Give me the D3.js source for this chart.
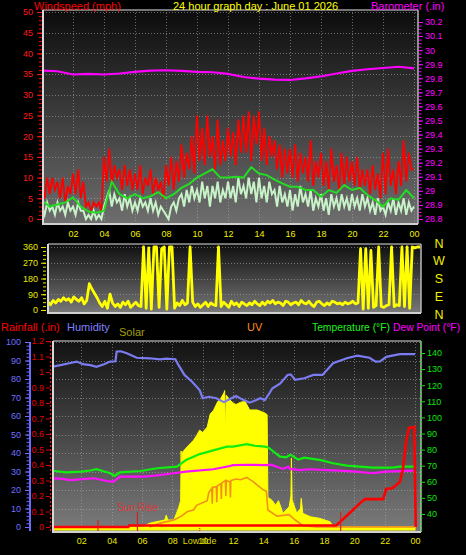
<!DOCTYPE html>
<html><head><meta charset="utf-8">
<script src="https://cdn.jsdelivr.net/npm/d3@7"></script>
<style>
html,body{margin:0;padding:0;background:#000;}
svg{display:block;}
</style></head><body>
<svg id="c" width="466" height="555"></svg>
<script>
// ---------------- DATA ----------------
const hourLabels = ["02","04","06","08","10","12","14","16","18","20","22","00"];
const labelHours = [2,4,6,8,10,12,14,16,18,20,22,24];

// wind gust (mph), every 10 minutes from 00:00 to 24:00
const gust = [
 8,5,10,6,10,7, 9,5,10,4,8,6, 11,6,12,5,9,3, 4,2,4,3,4,2,
 15,9,17,8,13,10, 12,7,13,8,12,7, 11,7,13,6,10,8, 12,6,10,7,9,5,
 13,8,15,7,14,9, 18,10,16,12,20,11, 25,14,22,13,25,15, 20,12,24,13,19,14,
 22,15,21,13,24,16, 25,16,26,14,25,18, 26,14,22,13,20,15, 19,12,18,10,17,11,
 17,10,18,9,16,11, 15,9,19,8,14,10, 16,8,14,7,17,9, 13,7,16,8,15,9,
 14,8,15,7,12,8, 12,6,13,7,11,5, 16,6,17,8,12,6, 14,8,19,9,16,12, 12
];
// wind speed (mph), every 10 minutes
const speed = [
 3,1,4,2,3,1, 4,2,3,1,4,2, 3,1,4,2,2,0, 1,0,2,0,1,0,
 3,5,7,3,6,4, 5,2,6,3,5,2, 4,2,5,3,4,2, 5,2,4,1,3,2,
 1,0,3,4,2,5, 6,3,7,4,8,5, 7,4,9,5,8,3, 8,5,9,4,7,5,
 9,5,8,4,10,6, 8,5,10,6,9,4, 10,5,8,4,9,6, 7,3,8,4,6,3,
 7,2,6,3,8,4, 6,3,7,2,5,3, 6,2,5,1,6,3, 5,2,6,3,5,2,
 6,3,5,2,6,3, 5,2,4,1,5,2, 3,1,4,2,5,1, 4,2,5,1,4,2, 3
];
// average wind (mph), every 30 minutes
const avgWind = [4.5,3,3.5,4,5.2,3,1.8,1.5,2,9,6,5,6,5,5.5,6.5,5,6,7.5,8.5,10,11,12,10,
 10,10.2,10,12.5,11,10.6,9.5,8.6,7.8,7.8,7,7,5.4,7,6.3,8.2,7,7.5,5.8,4.6,3,5,4.6,7,5];
// barometer (in), hourly
const baro = [29.854,29.850,29.827,29.831,29.827,29.834,29.845,29.855,29.857,29.852,29.845,29.843,
 29.831,29.809,29.797,29.791,29.788,29.799,29.813,29.834,29.853,29.864,29.873,29.882,29.870];
// wind direction (degrees), every 10 minutes
const windDir = [
 45,30,55,40,60,50, 70,55,65,45,75,60, 50,70,35,55,150,120, 95,70,40,20,50,10,
 90,40,20,35,15,45, 30,50,15,30,45,25, 20,360,10,355,5,360, 360,15,350,360,5,360,
 360,10,40,25,55,30, 40,360,45,20,35,15, 30,45,20,40,30,25, 360,20,45,30,15,50,
 30,40,20,45,35,25, 40,30,50,35,25,45, 30,50,40,55,35,45, 40,25,50,45,30,40,
 45,30,55,40,35,50, 30,20,45,50,35,25, 40,30,50,45,35,40, 30,45,35,40,50,35,
 40,350,5,350,10,340, 15,25,360,20,15,25, 30,360,20,30,25,360, 20,360,10,360,355,360, 360
];
const compassLabels = ["N","W","S","E","N"];

// [hour, value]
const humidity = [[0,86.5],[0.7,87.6],[1.2,88.5],[1.7,89.4],[2.1,88],[2.6,87.5],[3.0,86.6],[3.5,88],[3.9,89.4],
 [4.25,89.6],[4.33,94.8],[4.6,95],[5.0,93.9],[5.65,91.5],[6.5,91.2],[7.2,90.6],[7.6,91],[8.0,90.8],[8.2,90.6],
 [8.4,87.6],[8.8,82.2],[9.3,78.5],[9.8,74],[10.0,69.6],[10.4,70.4],[10.9,69.6],[11.4,67.5],[11.7,68.8],[12.2,70.8],
 [12.6,69],[13.1,67.2],[13.5,68.5],[13.8,69.6],[14.1,68.6],[14.4,72.3],[14.6,75],[15.1,77.5],[15.6,82.2],[15.8,82.5],
 [16.1,79.5],[16.7,80.4],[17.3,82.2],[17.9,82.2],[18.6,88.5],[19.5,91.2],[20.2,92.6],[21.0,91.5],[21.4,89.4],
 [21.7,89.5],[22.1,92],[23.0,93.4],[24,93.4]];
const temperature = [[0,67],[1.0,65.9],[2.0,66.3],[2.6,67],[3.0,67.8],[3.9,65.3],[4.2,63.6],[4.55,65.9],[5.9,66.7],
 [7.0,68.4],[8.3,69.4],[8.9,73.5],[9.8,77.2],[10.7,79.5],[11.6,81.8],[12.0,81.8],[12.9,83.4],[13.4,82.5],[14.1,81.8],
 [14.3,81.5],[15.1,75.6],[15.5,75.2],[15.8,76.8],[16.3,73.8],[16.7,75],[17.8,73.5],[18.6,71.5],[19.5,70],[21.2,68.8],
 [22.5,68.8],[23.0,69.4],[24,69.4]];
const dewPoint = [[0,62.2],[0.8,61.8],[1.2,61],[1.9,61.5],[2.8,62.2],[3.7,60.5],[4.1,59.9],[4.55,63.2],[6.1,63.2],
 [7.0,64],[8.1,65.3],[8.9,66.3],[10.7,67.8],[11.8,69.8],[12.0,70.4],[13.0,70.6],[14.2,70.4],[14.5,70.6],[15.3,68],
 [15.65,69.4],[15.75,68],[16.4,67.3],[17.0,67.8],[18.2,67.3],[19.0,67],[20.1,66.3],[21.2,65.3],[22.1,66.3],
 [23.0,66.6],[24,66.9]];
const rainfall = [[0,0],[5.1,0],[5.15,0.01],[18.8,0.01],[19.2,0.045],[19.9,0.11],[20.5,0.165],[20.7,0.18],[21.9,0.18],
 [22.1,0.245],[22.5,0.25],[23.0,0.29],[23.2,0.37],[23.4,0.54],[23.6,0.64],[23.95,0.645],[24.05,0]];
const solar = [[0,0],[6.0,0],[6.5,24],[7.0,35],[7.5,45],[7.6,77],[7.7,45],[8.1,45],[8.4,120],[8.55,170],[8.58,490],
 [8.62,200],[8.65,480],[9.0,520],[9.2,540],[9.4,560],[9.6,590],[9.8,625],[10.0,610],[10.3,645],[10.5,730],[10.7,750],
 [11.0,810],[11.2,830],[11.4,865],[11.45,880],[11.5,590],[11.55,850],[11.8,820],[12.0,800],[12.2,790],[12.5,805],
 [12.8,810],[13.1,755],[13.6,755],[14.1,735],[14.25,725],[14.3,190],[14.4,185],[14.6,170],[14.8,140],[15.0,170],
 [15.3,88],[15.7,130],[15.82,200],[15.85,445],[15.9,175],[16.2,90],[16.45,120],[16.5,185],[16.6,88],[17.1,66],
 [17.7,56],[18.4,34],[18.6,2],[19,0],[24,0]];
const uvIndex = [[6.5,0],[7.2,0.25],[8.1,0.45],[8.6,0.7],[9.0,1.0],[9.4,1.1],[9.6,1.4],[10.3,1.7],[10.4,2.2],[10.6,2.5],
 [10.63,1.5],[10.66,2.55],[10.9,2.6],[10.93,1.6],[10.96,2.65],[11.2,2.8],[11.23,1.8],[11.26,2.85],[11.5,3.0],[11.53,2.0],
 [11.56,3.0],[11.8,2.9],[11.83,1.9],[11.86,3.0],[12.2,3.1],[12.5,3.05],[12.9,3.2],[13.3,2.95],[13.6,2.7],[14.0,2.4],
 [14.2,2.3],[14.3,1.1],[14.9,0.7],[15.3,0.75],[15.7,0.8],[16.1,0.45],[16.6,0.1],[17.0,0.05],[17.5,0],[24,0]];
const eventHours = [3.1, 5.7, 19.1];
const eventKinds = ["mark", "sunrise", "sunset"];
const tideHours = [9.8];
const tideLabels = ["Low tide"];

// ---------------- DRAWING ----------------
const FONT = "'Liberation Sans', Arial, sans-serif";
const svg = d3.select("#c");
svg.append("rect").attr("width",466).attr("height",555).attr("fill","#000");
const defs = svg.append("defs");
function grad(id,c0,c1){
  const g = defs.append("linearGradient").attr("id",id).attr("x1",0).attr("y1",0).attr("x2",0).attr("y2",1);
  g.append("stop").attr("offset","0%").attr("stop-color",c0);
  g.append("stop").attr("offset","100%").attr("stop-color",c1);
}
function panel(P,id,c0,c1){
  grad(id+"g",c0,c1);
  defs.append("clipPath").attr("id",id+"c").append("rect")
    .attr("x",P.l).attr("y",P.t).attr("width",P.r-P.l).attr("height",P.b-P.t);
  svg.append("rect").attr("x",P.l).attr("y",P.t).attr("width",P.r-P.l).attr("height",P.b-P.t)
    .attr("fill",`url(#${id}g)`);
}
function frame(P){
  svg.append("line").attr("x1",P.l).attr("x2",P.r).attr("y1",P.t).attr("y2",P.t).attr("stroke","#9a9a9a").attr("stroke-width",1.5);
  svg.append("line").attr("x1",P.r).attr("x2",P.r).attr("y1",P.t).attr("y2",P.b).attr("stroke","#b8b8b8").attr("stroke-width",1.5);
  svg.append("line").attr("x1",P.l).attr("x2",P.l).attr("y1",P.t).attr("y2",P.b+1).attr("stroke","#d8d8d8").attr("stroke-width",2);
  svg.append("line").attr("x1",P.l).attr("x2",P.r).attr("y1",P.b).attr("y2",P.b).attr("stroke","#d0d0d0").attr("stroke-width",2);
}
function gridH(P,ys){
  svg.append("g").selectAll("line").data(ys).join("line")
    .attr("x1",P.l).attr("x2",P.r).attr("y1",d=>Math.round(d)+0.5).attr("y2",d=>Math.round(d)+0.5)
    .attr("stroke","#b0b0b0").attr("stroke-opacity",0.55).attr("stroke-dasharray","1,2");
}
function gridV(P,xs){
  svg.append("g").selectAll("line").data(xs).join("line")
    .attr("y1",P.t).attr("y2",P.b).attr("x1",d=>Math.round(d)+0.5).attr("x2",d=>Math.round(d)+0.5)
    .attr("stroke","#b0b0b0").attr("stroke-opacity",0.55).attr("stroke-dasharray","1,2");
}
function styleAxis(g,color,size){
  g.select(".domain").remove();
  g.selectAll("line").attr("stroke",color);
  g.selectAll("text").attr("fill",color).attr("font-size",size).attr("font-family",FONT);
}
function txt(x,y,s,color,size,anchor){
  return svg.append("text").attr("x",x).attr("y",y).text(s).attr("fill",color)
    .attr("font-size",size).attr("font-family",FONT).attr("text-anchor",anchor||"start");
}

// ===== Panel 1: wind + barometer =====
const P1 = {l:43,t:10,r:418,b:224};
const xTop = d3.scaleLinear([0,24],[42,414]);
const windY = d3.scaleLinear([0,50],[219,12]);
const baroY = d3.scaleLinear([28.8,30.2],[219,22]);
panel(P1,"p1","#0c0c0c","#6e6e6e");
gridH(P1,d3.range(5,51,5).map(windY));
gridV(P1,labelHours.map(xTop));
const g1 = svg.append("g").attr("clip-path","url(#p1c)");
g1.append("path").datum(gust).attr("fill","none").attr("stroke","#ff0000").attr("stroke-width",1.8)
  .attr("d",d3.line().x((d,i)=>xTop(i/6)).y(d=>windY(d)));
g1.append("path").datum(speed).attr("fill","none").attr("stroke","#c8f2c8").attr("stroke-width",2)
  .attr("d",d3.line().x((d,i)=>xTop(i/6)).y(d=>windY(d)));
g1.append("path").datum(avgWind).attr("fill","none").attr("stroke","#22dd22").attr("stroke-width",2)
  .attr("d",d3.line().x((d,i)=>xTop(i/2)).y(d=>windY(d)));
g1.append("path").datum(baro).attr("fill","none").attr("stroke","#ff00ff").attr("stroke-width",2.2)
  .attr("d",d3.line().x((d,i)=>xTop(i)).y(d=>baroY(d)));
frame(P1);
// axes
styleAxis(svg.append("g").attr("transform","translate(42,0)")
  .call(d3.axisLeft(windY).tickValues(d3.range(0,51,1)).tickSize(3).tickFormat("")),"#ff0000",9);
styleAxis(svg.append("g").attr("transform","translate(42,0)")
  .call(d3.axisLeft(windY).tickValues(d3.range(0,51,5)).tickSize(5).tickPadding(4)),"#ff1a1a",9);
styleAxis(svg.append("g").attr("transform","translate(419,0)")
  .call(d3.axisRight(baroY).tickValues(d3.range(0,57).map(i=>28.8+i*0.025)).tickSize(2.5).tickFormat("")),"#ff00ff",9);
styleAxis(svg.append("g").attr("transform","translate(419,0)")
  .call(d3.axisRight(baroY).tickValues(d3.range(0,15).map(i=>+(28.8+i*0.1).toFixed(1))).tickSize(4).tickPadding(2)
  .tickFormat(d=>d3.format("")(+d.toFixed(1)))),"#ff00ff",9);
styleAxis(svg.append("g").attr("transform",`translate(0,${P1.b})`)
  .call(d3.axisBottom(xTop).tickValues(labelHours).tickSize(0).tickPadding(7).tickFormat((d,i)=>hourLabels[i])),"#f0f000",9);
txt(34,9.5,"Windspeed (mph)","#ff0000",11);
txt(173,9.5,"24 hour graph day : June 01 2026","#ffff00",11);
txt(371,9.5,"Barometer (.in)","#ff00ff",11);

// ===== Panel 2: wind direction =====
const P2 = {l:48,t:244,r:421,b:313};
const xDir = d3.scaleLinear([0,24],[48,420]);
const dirY = d3.scaleLinear([0,360],[310,247]);
panel(P2,"p2","#0e0e0e","#787878");
gridH(P2,[90,180,270,360].map(dirY));
const g2 = svg.append("g").attr("clip-path","url(#p2c)");
g2.append("path").datum(windDir).attr("fill","none").attr("stroke","#ffff00").attr("stroke-width",2.8)
  .attr("stroke-linejoin","round")
  .attr("d",d3.line().x((d,i)=>xDir(i/6)).y(d=>dirY(d)));
frame(P2);
styleAxis(svg.append("g").attr("transform","translate(46,0)")
  .call(d3.axisLeft(dirY).tickValues(d3.range(0,361,22.5)).tickSize(3).tickFormat("")),"#e8e800",9);
styleAxis(svg.append("g").attr("transform","translate(46,0)")
  .call(d3.axisLeft(dirY).tickValues([0,90,180,270,360]).tickSize(5).tickPadding(3)),"#e8e800",9);
const compY = d3.scalePoint(d3.range(compassLabels.length),[243,314]);
svg.append("g").selectAll("text").data(compassLabels).join("text")
  .attr("x",439).attr("y",(d,i)=>compY(i)).attr("dy","0.36em").attr("text-anchor","middle")
  .attr("fill","#f0f000").attr("font-size",12.5).attr("font-family",FONT).text(d=>d);

// ===== Panel 3: rain/humidity/solar/UV/temp/dew =====
const P3 = {l:53,t:341,r:421,b:532};
const xBot = d3.scaleLinear([0,24],[51,415]);
const humY = d3.scaleLinear([0,100],[527,342]);
const rainY = d3.scaleLinear([0,1.2],[527,341]);
const tempY = d3.scaleLinear([40,140],[514,353]);
const solarY = d3.scaleLinear([0,1200],[527,341]);
const uvY = d3.scaleLinear([0,12],[527,341]);
panel(P3,"p3","#121212","#7c7c7c");
gridH(P3,d3.range(10,101,10).map(humY));
gridV(P3,labelHours.map(xBot));
const g3 = svg.append("g").attr("clip-path","url(#p3c)");
g3.append("path").datum(solar).attr("fill","#ffff00").attr("stroke","#ffff00").attr("stroke-width",1)
  .attr("d",d3.area().x(d=>xBot(d[0])).y0(P3.b-2).y1(d=>solarY(d[1])));
g3.append("path").datum(uvIndex).attr("fill","none").attr("stroke","#f39018").attr("stroke-width",1.6)
  .attr("d",d3.line().x(d=>xBot(d[0])).y(d=>uvY(d[1])));
g3.append("path").datum(temperature).attr("fill","none").attr("stroke","#10ee10").attr("stroke-width",2.2)
  .attr("d",d3.line().x(d=>xBot(d[0])).y(d=>tempY(d[1])));
g3.append("path").datum(dewPoint).attr("fill","none").attr("stroke","#ff10ff").attr("stroke-width",2.2)
  .attr("d",d3.line().x(d=>xBot(d[0])).y(d=>tempY(d[1])));
g3.append("path").datum(humidity).attr("fill","none").attr("stroke","#7b7bf2").attr("stroke-width",2.2)
  .attr("d",d3.line().x(d=>xBot(d[0])).y(d=>humY(d[1])));
g3.append("path").datum(rainfall).attr("fill","none").attr("stroke","#ff0000").attr("stroke-width",2.6)
  .attr("d",d3.line().x(d=>xBot(d[0])).y(d=>rainY(d[1])));
// event markers
g3.selectAll(".ev").data(eventHours).join("line").attr("class","ev")
  .attr("x1",d=>xBot(d)).attr("x2",d=>xBot(d))
  .attr("y1",(d,i)=>eventKinds[i]==="mark"?520:512).attr("y2",P3.b)
  .attr("stroke","#d82020").attr("stroke-width",1.2);
g3.selectAll(".td").data(tideHours).join("line").attr("class","td")
  .attr("x1",d=>xBot(d)).attr("x2",d=>xBot(d)).attr("y1",526).attr("y2",P3.b)
  .attr("stroke","#ff3030").attr("stroke-width",1.5).attr("stroke-dasharray","1,1");
svg.append("g").selectAll("text").data(eventHours.filter((d,i)=>eventKinds[i]==="sunrise")).join("text")
  .attr("x",d=>xBot(d)).attr("y",511).attr("text-anchor","middle").attr("fill","#d83a3a")
  .attr("font-size",10).attr("font-family",FONT).text("Sun Rise");
frame(P3);
// left humidity axis
svg.append("line").attr("x1",30).attr("x2",30).attr("y1",342).attr("y2",531).attr("stroke","#6b6bff").attr("stroke-width",2);
styleAxis(svg.append("g").attr("transform","translate(29,0)")
  .call(d3.axisLeft(humY).tickValues(d3.range(0,101,2)).tickSize(2.5).tickFormat("")),"#6b6bff",9);
styleAxis(svg.append("g").attr("transform","translate(29,0)")
  .call(d3.axisLeft(humY).tickValues(d3.range(0,101,10)).tickSize(4).tickPadding(4)),"#7070ff",9);
// rain axis
svg.append("line").attr("x1",50.5).attr("x2",50.5).attr("y1",341).attr("y2",532).attr("stroke","#e01010").attr("stroke-width",1.2).attr("stroke-dasharray","2,2");
styleAxis(svg.append("g").attr("transform","translate(50,0)")
  .call(d3.axisLeft(rainY).tickValues(d3.range(0,13).map(i=>i/10)).tickSize(4).tickPadding(2)
  .tickFormat(d=>d3.format("")(+d.toFixed(1)))),"#e00000",9);
// temperature axis
svg.append("line").attr("x1",421.5).attr("x2",421.5).attr("y1",341).attr("y2",532).attr("stroke","#10d010").attr("stroke-width",1.2).attr("stroke-dasharray","2,2");
styleAxis(svg.append("g").attr("transform","translate(422,0)")
  .call(d3.axisRight(tempY).tickValues(d3.range(40,141,10)).tickSize(3).tickPadding(2)),"#10e010",9);
styleAxis(svg.append("g").attr("transform",`translate(0,${P3.b})`)
  .call(d3.axisBottom(xBot).tickValues(labelHours).tickSize(0).tickPadding(6).tickFormat((d,i)=>hourLabels[i])),"#e8e800",9);
svg.append("g").selectAll("text").data(tideHours).join("text")
  .attr("x",d=>xBot(d)).attr("y",544).attr("text-anchor","middle").attr("fill","#d8d800")
  .attr("font-size",9).attr("font-family",FONT).text((d,i)=>tideLabels[i]);
txt(1,330.5,"Rainfall (.in)","#ff0000",11);
txt(67,330.5,"Humidity","#8080ff",11);
txt(119,336,"Solar","#a0a010",11);
txt(247,330.5,"UV","#ff8c1a",11);
txt(312,331,"Temperature (°F)","#20f020",10.3);
txt(393,331,"Dew Point (°F)","#ff00ff",10.3);
</script>
</body></html>
